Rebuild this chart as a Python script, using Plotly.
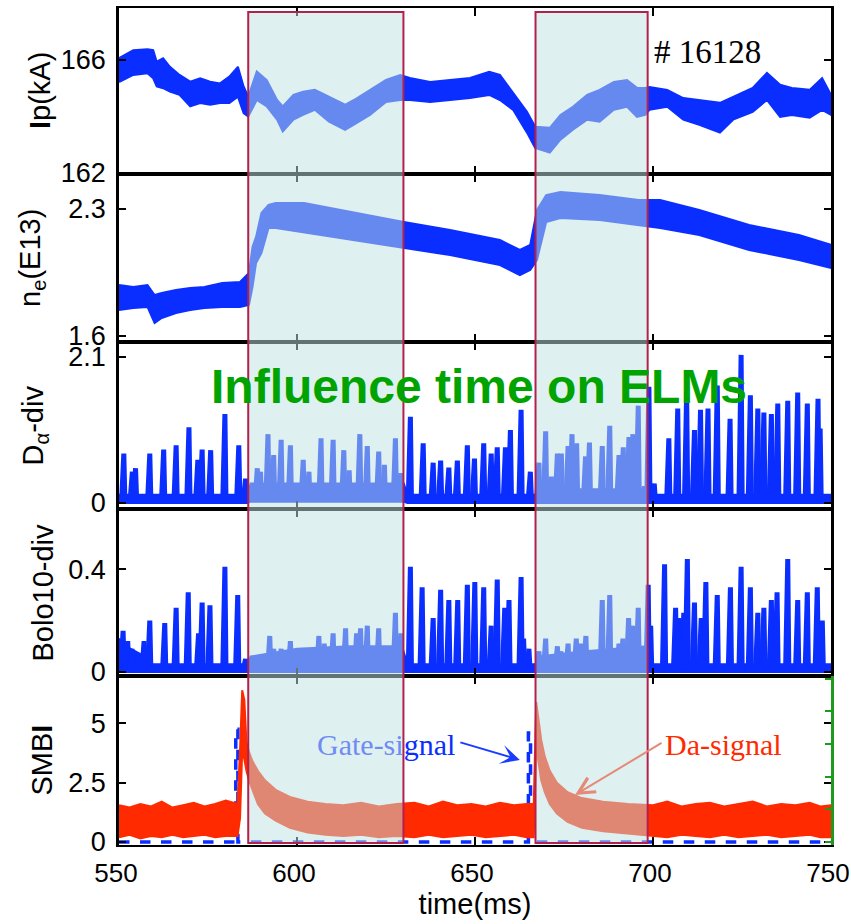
import plotly.graph_objects as go
from plotly.subplots import make_subplots

# ---------------- data ----------------
# plasma current Ip (kA): noisy band, upper / lower envelope
ip_t = [550, 554, 558, 559.6, 560.6, 562.4, 564.3, 567, 570, 572.8, 575.6, 578.4, 581, 583.4, 585,
        586.3, 588.7, 591.5, 594.4, 596, 599, 601.7, 605, 609, 613.5, 616, 620.5, 625, 629, 631.7,
        637.4, 643, 648.6, 654, 657, 660.7, 664.6, 666.9, 671, 674, 677.5, 681.5, 685, 689, 692.7,
        695.5, 697.8, 699, 704, 708.5, 713, 718.8, 722.5, 728, 732, 735.7, 739, 744, 747.5, 750]
ip_hi = [166.07, 166.35, 166.38, 166.35, 165.94, 166.06, 165.76, 165.47, 165.23, 165.35, 165.23, 165.17,
         165.41, 165.76, 165.06, 164.70, 165.59, 165.29, 164.58, 164.35, 164.76, 164.87, 164.94, 164.69,
         164.41, 164.58, 164.94, 165.29, 165.47, 165.36, 165.22, 165.29, 165.36, 165.58, 165.47, 164.83,
         164.16, 163.63, 163.59, 164.05, 164.34, 164.76, 164.94, 165.22, 165.29, 165.01, 165.01, 165.04,
         164.94, 164.65, 164.58, 164.48, 164.69, 165.01, 165.54, 165.12, 165.01, 164.94, 165.36, 164.76]
ip_lo = [165.22, 165.47, 165.53, 165.35, 165.06, 165.00, 164.88, 164.76, 164.35, 164.47, 164.41, 164.47,
         164.47, 164.70, 164.11, 163.99, 164.58, 164.35, 163.88, 163.46, 163.88, 164.05, 164.23, 163.81,
         163.52, 163.70, 164.05, 164.51, 164.58, 164.58, 164.51, 164.58, 164.65, 164.76, 164.58, 164.23,
         163.42, 162.88, 162.71, 163.17, 163.52, 163.88, 163.81, 164.23, 164.34, 163.98, 164.05, 164.23,
         164.34, 163.88, 163.70, 163.42, 163.88, 164.16, 164.58, 163.98, 164.05, 163.95, 164.23, 164.05]

# line-averaged density ne (1e13 cm^-3)
ne_t = [550, 554, 558, 560, 562, 566, 570, 574, 579, 584, 586.5, 587.5, 588.5, 590, 592, 594, 602,
        630, 643, 657, 662.6, 665.5, 667.4, 670, 674, 685, 696, 702, 713, 727, 741, 750]
ne_hi = [1.881, 1.870, 1.881, 1.826, 1.837, 1.853, 1.864, 1.870, 1.892, 1.898, 1.947, 2.091, 2.146,
         2.278, 2.322, 2.333, 2.333, 2.228, 2.184, 2.129, 2.074, 2.102, 2.294, 2.377, 2.394, 2.377,
         2.350, 2.350, 2.294, 2.212, 2.157, 2.102]
ne_lo = [1.743, 1.754, 1.760, 1.672, 1.699, 1.727, 1.743, 1.754, 1.760, 1.760, 1.771, 1.870, 2.002,
         2.057, 2.195, 2.195, 2.173, 2.085, 2.046, 1.991, 1.936, 1.964, 2.019, 2.228, 2.250, 2.239,
         2.212, 2.195, 2.157, 2.074, 2.019, 1.975]

# divertor D-alpha: ELM spikes (time, peak) and baseline band
da_t = [551.2, 553.6, 554.5, 558.5, 562.4, 565.9, 569.5, 572.0, 573.2, 575.6, 579.6, 583.5, 585.4,
        588.7, 589.6, 591.7, 593.3, 595.4, 598.0, 601.6, 603.2, 606.6, 610.0, 613.0, 614.5, 617.5,
        619.6, 622.8, 624.4, 627.5, 629.0,
        631.7, 635.3, 638.1, 640.2, 642.5, 644.9, 647.7, 649.7, 652.3, 654.4, 656.1, 658.4, 659.8,
        662.8, 665.4,
        667.8, 669.7, 671.3, 673.0, 674.1, 676.0, 677.1, 678.4, 680.9, 682.0, 685.6, 687.7, 690.3,
        691.5, 693.1, 694.2, 695.7, 697.4,
        698.7, 700.2, 704.3, 706.8, 709.3, 711.5, 713.2, 715.3, 717.9, 721.5, 724.6, 727.2, 729.3,
        731.0, 733.1, 734.9, 737.7, 740.5, 743.2, 746.2, 746.8]
da_h = [0.71, 0.45, 0.50, 0.71, 0.77, 0.83, 1.09, 0.62, 0.77, 0.76, 1.28, 0.83, 0.35,
        0.50, 0.45, 0.99, 0.69, 0.91, 0.83, 0.62, 0.45, 0.93, 0.91, 0.76, 0.47, 0.99,
        0.82, 0.74, 0.55, 0.93, 0.43,
        1.24, 0.86, 0.58, 0.61, 0.51, 0.61, 0.83, 0.64, 0.86, 0.71, 0.80, 0.80, 1.05,
        1.34, 0.45,
        0.58, 1.03, 0.38, 0.71, 0.71, 0.82, 0.99, 0.86, 0.67, 0.87, 0.82, 1.11, 0.69,
        0.80, 0.95, 0.99, 1.40, 0.24,
        1.67, 0.28, 0.93, 1.36, 1.58, 1.05, 1.34, 1.36, 1.69, 1.21, 2.13, 1.55, 1.36,
        1.30, 1.28, 1.43, 1.47, 1.59, 1.43, 1.50, 1.07]
da_base_t = [550, 586, 587, 630, 631, 667, 668, 698.5, 699, 750]
da_base_hi = [0.12, 0.12, 0.28, 0.28, 0.12, 0.12, 0.20, 0.20, 0.12, 0.12]
da_base_lo = [0.0, 0.0, 0.02, 0.02, 0.0, 0.0, 0.0, 0.0, 0.0, 0.0]

# divertor bolometer channel 10
bo_t = [551.0, 552.3, 553.5, 556.9, 558.5, 562.7, 565.9, 569.3, 572.2, 573.2, 575.4, 579.6, 583.2, 585.4,
        588.7, 592.2, 593.3, 595.4, 598.0, 601.0, 603.0, 606.0, 607.5, 610.0, 613.5, 616.6, 617.7,
        619.6, 620.5, 622.8, 624.0, 627.5, 629.0,
        631.7, 635.0, 638.1, 640.2, 642.5, 645.0, 647.7, 649.8, 652.3, 654.4, 656.1, 658.2, 659.4,
        662.8, 663.5, 665.0,
        667.8, 669.7, 671.3, 673.0, 674.0, 676.0, 678.3, 679.5, 681.0, 683.3, 685.6, 687.7, 690.3,
        691.4, 693.0, 694.1, 695.7, 697.3,
        698.5, 699.2, 703.1, 706.2, 707.1, 708.5, 709.5, 711.5, 713.4, 714.7, 717.9, 721.6, 724.6,
        727.2, 729.3, 731.0, 733.1, 734.7, 737.7, 740.5, 743.2, 746.0, 747.4]
bo_h = [0.16, 0.12, 0.09, 0.12, 0.20, 0.19, 0.25, 0.31, 0.15, 0.27, 0.26, 0.41, 0.30, 0.05,
        0.06, 0.14, 0.09, 0.09, 0.12, 0.09, 0.09, 0.14, 0.11, 0.15, 0.17, 0.15, 0.17,
        0.18, 0.07, 0.17, 0.07, 0.23, 0.15,
        0.41, 0.33, 0.21, 0.32, 0.28, 0.28, 0.34, 0.35, 0.33, 0.18, 0.36, 0.25, 0.28,
        0.37, 0.13, 0.09,
        0.08, 0.13, 0.06, 0.10, 0.08, 0.11, 0.13, 0.11, 0.14, 0.06, 0.28, 0.30, 0.11,
        0.13, 0.21, 0.18, 0.25, 0.01,
        0.34, 0.18, 0.42, 0.25, 0.21, 0.23, 0.44, 0.27, 0.21, 0.35, 0.30, 0.33, 0.41,
        0.33, 0.23, 0.25, 0.28, 0.31, 0.44, 0.28, 0.31, 0.33, 0.20]
bo_base_t = [550, 552, 556, 558, 586, 587, 600, 615, 629.5, 631, 667, 668, 680, 698, 699, 750]
bo_base_hi = [0.13, 0.10, 0.07, 0.03, 0.03, 0.06, 0.09, 0.10, 0.10, 0.03, 0.03, 0.06, 0.08, 0.10, 0.03, 0.03]
bo_base_lo = [0.0] * len(bo_base_t)

# SMBI D-alpha signal (band) and gate signal
sm_t = [550, 553, 556, 559, 562, 565, 568, 571, 574, 577, 580, 583.3, 584.0, 584.6, 585.2, 585.8,
        586.5, 587.5, 589, 591, 594, 598, 603, 608, 613, 618, 623, 628, 633, 637, 641, 645, 649,
        653, 657, 661, 664.5, 666.5, 667.2, 667.8, 668.6, 669.6, 671, 673, 676, 680, 686, 693,
        700, 704, 708, 712, 716, 720, 724, 728, 732, 736, 740, 744, 747, 750]
sm_hi = [1.55, 1.45, 1.60, 1.50, 1.70, 1.45, 1.55, 1.65, 1.50, 1.60, 1.75, 1.6, 3.9, 6.4, 6.0, 4.2,
         3.8, 3.4, 3.0, 2.6, 2.2, 1.9, 1.7, 1.6, 1.55, 1.65, 1.5, 1.6, 1.65, 1.5, 1.7, 1.55, 1.6,
         1.5, 1.65, 1.55, 1.6, 1.6, 5.9, 5.2, 4.3, 3.6, 3.0, 2.5, 2.1, 1.85, 1.7, 1.6,
         1.55, 1.7, 1.5, 1.6, 1.65, 1.5, 1.6, 1.7, 1.5, 1.6, 1.55, 1.65, 1.5, 1.55]
sm_lo = [0.2, 0.3, 0.15, 0.25, 0.2, 0.3, 0.2, 0.25, 0.3, 0.2, 0.25, 0.25, 1.0, 3.8, 3.5, 3.0,
         2.6, 2.2, 1.6, 1.2, 0.9, 0.6, 0.4, 0.3, 0.25, 0.3, 0.2, 0.25, 0.2, 0.3, 0.2, 0.25, 0.3,
         0.2, 0.25, 0.3, 0.2, 0.2, 4.0, 3.4, 2.6, 2.1, 1.6, 1.2, 0.85, 0.6, 0.45, 0.35,
         0.25, 0.2, 0.3, 0.25, 0.2, 0.3, 0.2, 0.25, 0.3, 0.2, 0.25, 0.3, 0.2, 0.2]
gate_t = [550, 582.8, 582.8, 583.4, 583.4, 665.0, 665.0, 665.6, 665.6, 750]
gate_v = [0, 0, 4.75, 4.75, 0, 0, 4.6, 4.6, 0, 0]

# SMBI influence windows (ms)
windows = [(586.3, 629.9), (667.0, 698.5)]

# axis ticks
x_ticks = [550, 600, 650, 700, 750]
ip_ticks = [162, 166]
ne_ticks = [1.6, 2.3]
da_ticks = [0, 2.1]
bo_ticks = [0, 0.4]
sm_ticks = [0, 2.5, 5]
sm_tick_text = ["0", "2.5", "5"]

# ---------------- styling ----------------
BLUE = "#0a2eff"
RED = "#ff2a00"
GREEN = "#00a300"
TICK_FONT = dict(family="Liberation Sans Narrow, Arial Narrow, Liberation Sans", size=27, color="black")
XTICK_FONT = dict(family="Liberation Sans Narrow, Arial Narrow, Liberation Sans", size=26, color="black")
TITLE_FONT = dict(family="Liberation Sans, Arial", size=29, color="black")


def band(t, hi, lo, color):
    return go.Scatter(x=list(t) + list(t)[::-1], y=list(hi) + list(lo)[::-1],
                      fill="toself", fillcolor=color, mode="lines",
                      line=dict(color=color, width=2), hoverinfo="skip", showlegend=False)


def spikes(times, heights, base, color, half=0.45):
    xs, ys = [], []
    for t, h in zip(times, heights):
        xs += [t - half, t - 0.15, t + 0.15, t + half, None]
        ys += [base, h, h, base, None]
    return go.Scatter(x=xs, y=ys, mode="lines", line=dict(color=color, width=5),
                      hoverinfo="skip", showlegend=False)


fig = make_subplots(rows=5, cols=1, shared_xaxes=True, vertical_spacing=0,
                    specs=[[{}], [{}], [{}], [{}], [{"secondary_y": True}]])

fig.add_trace(band(ip_t, ip_hi, ip_lo, BLUE), row=1, col=1)
fig.add_trace(band(ne_t, ne_hi, ne_lo, BLUE), row=2, col=1)
fig.add_trace(band(da_base_t, da_base_hi, da_base_lo, BLUE), row=3, col=1)
fig.add_trace(spikes(da_t, da_h, 0.05, BLUE), row=3, col=1)
fig.add_trace(band(bo_base_t, bo_base_hi, bo_base_lo, BLUE), row=4, col=1)
fig.add_trace(spikes(bo_t, bo_h, 0.01, BLUE), row=4, col=1)
fig.add_trace(go.Scatter(x=gate_t, y=gate_v, mode="lines",
                         line=dict(color=BLUE, width=3.5, dash="dash"),
                         hoverinfo="skip", showlegend=False), row=5, col=1)
fig.add_trace(band(sm_t, sm_hi, sm_lo, RED), row=5, col=1)
# empty trace that carries the green right-hand scale
fig.add_trace(go.Scatter(x=[None], y=[None], showlegend=False), row=5, col=1, secondary_y=True)

# panel geometry (paper fractions)
domains = [[0.8017, 1.0], [0.6010, 0.8017], [0.4014, 0.6010], [0.2019, 0.4014], [0.0, 0.2019]]
y_ranges = [[161.95, 167.85], [1.567, 2.493], [-0.086, 2.316], [-0.016, 0.635], [-0.13, 7.0]]
y_ticks = [ip_ticks, ne_ticks, da_ticks, bo_ticks, sm_ticks]

for i in range(5):
    r = i + 1
    fig.update_xaxes(row=r, col=1, domain=[0, 1], range=[550, 750], tickvals=x_ticks,
                     ticks="inside", ticklen=8, tickwidth=2, tickcolor="black",
                     showline=True, linecolor="black", linewidth=2, mirror="ticks",
                     showgrid=False, zeroline=False, tickfont=XTICK_FONT,
                     ticklabelstandoff=4, ticklabelshift=-3, ticklabeloverflow="allow",
                     automargin=False)
    fig.update_yaxes(row=r, col=1, secondary_y=False, domain=domains[i], range=y_ranges[i],
                     tickvals=y_ticks[i], ticks="inside", ticklen=7, tickwidth=2,
                     tickcolor="black", showline=True, linecolor="black", linewidth=2.5,
                     mirror="ticks", showgrid=False, zeroline=False, tickfont=TICK_FONT,
                     ticklabelstandoff=5, automargin=False)

fig.update_yaxes(row=5, col=1, secondary_y=False, ticktext=sm_tick_text)
fig.update_yaxes(row=5, col=1, secondary_y=True, range=[-0.09, 5.08], dtick=1,
                 showticklabels=False, ticks="inside", ticklen=6, tickwidth=2, tickcolor="#1f9a1f",
                 showline=True, linecolor="#1f9a1f", linewidth=2.5, showgrid=False, zeroline=False,
                 automargin=False)
fig.update_xaxes(row=5, col=1, title=dict(text="time(ms)", font=TITLE_FONT, standoff=6))

# SMBI influence windows, drawn over everything
for x0, x1 in windows:
    fig.add_shape(type="rect", xref="x", yref="paper", x0=x0, x1=x1, y0=0.0024, y1=0.9952,
                  fillcolor="rgba(193,225,226,0.51)", line=dict(color="#b4204c", width=2),
                  layer="above")

# y-axis titles
y_titles = ["<b>I</b>p(kA)", "n<sub>e</sub>(E13)", "D<sub>α</sub>-div", "Bolo10-div", "SMB<b>I</b>"]
title_x = [40, 32, 35, 43, 42]
for i, txt in enumerate(y_titles):
    fig.add_annotation(text=txt, xref="paper", yref="paper", textangle=-90,
                       x=(title_x[i] - 119) / 712, y=sum(domains[i]) / 2,
                       xanchor="center", yanchor="middle", showarrow=False, font=TITLE_FONT)

fig.add_annotation(text="<b>Influence time on ELMs</b>", xref="paper", yref="paper",
                   x=0.505, y=0.548, xanchor="center", yanchor="middle", showarrow=False,
                   font=dict(family="Liberation Sans, Arial", size=48, color=GREEN))
fig.add_annotation(text="# 16128", xref="paper", yref="paper", x=0.826, y=0.947,
                   xanchor="center", yanchor="middle", showarrow=False,
                   font=dict(family="Liberation Serif, Times New Roman", size=33, color="black"))
fig.add_annotation(text="<span style='color:#6f8cf2'>Gate-si</span>gnal", xref="paper", yref="paper",
                   x=0.3743, y=0.1195, xanchor="center", yanchor="middle", showarrow=False,
                   font=dict(family="Liberation Serif, Times New Roman", size=30, color=BLUE))
fig.add_annotation(text="Da-signal", xref="paper", yref="paper", x=0.849, y=0.1195,
                   xanchor="center", yanchor="middle", showarrow=False,
                   font=dict(family="Liberation Serif, Times New Roman", size=30, color=RED))
# arrows pointing at the gate pulse and at the D-alpha decay
fig.add_annotation(x=662.6, y=3.46, xref="x5", yref="y5", text="", showarrow=True,
                   ax=-61, ay=-18, arrowhead=3, arrowsize=1.6, arrowwidth=2, arrowcolor="#1a3cff")
fig.add_annotation(x=678.1, y=1.98, xref="x5", yref="y5", text="", showarrow=True,
                   ax=88, ay=-53, arrowhead=5, arrowsize=1.6, arrowwidth=2, arrowcolor="#e58a78")

fig.update_layout(width=851, height=924,
                  margin=dict(l=119, r=20, t=8, b=79, autoexpand=False),
                  plot_bgcolor="white", paper_bgcolor="white", showlegend=False)

fig.write_html("out.html")
